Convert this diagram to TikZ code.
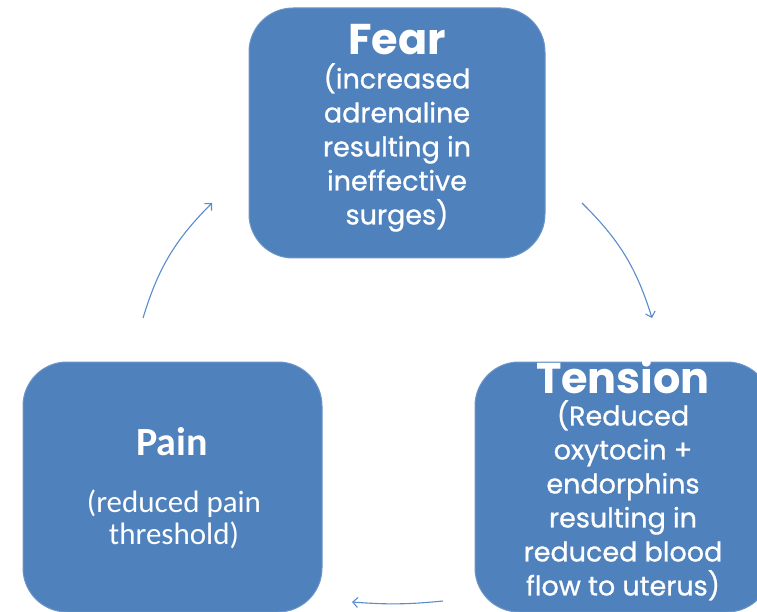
\documentclass[tikz,border=0pt]{standalone}
\usepackage{fontspec}
\setmainfont{Poppins}
\newfontfamily\bodyf[FakeBold=0.9]{Poppins}
\newfontfamily\calib{Carlito}
\usetikzlibrary{arrows.meta}
\definecolor{boxblue}{HTML}{4F81BD}
\definecolor{boxedge}{HTML}{6C95C8}
\definecolor{arrowblue}{HTML}{5B8CCB}
\tikzset{
  cyclebox/.style={fill=boxblue, draw=boxedge, line width=1pt, rounded corners=44pt},
  headtext/.style={text=white, inner sep=0pt, font=\bfseries\fontsize{43}{43}\selectfont},
  bodytext/.style={text=white, inner sep=0pt, align=center, font=\bodyf\fontsize{27}{34}\selectfont},
  cyclearrow/.style={draw=arrowblue, line width=1.1pt, -{Straight Barb[length=5pt,width=10pt]}}
}
\begin{document}
\begin{tikzpicture}[x=1pt, y=-1pt]
\clip (0,0) rectangle (757,612);
\fill[white] (0,0) rectangle (757,612);
% boxes
\draw[cyclebox] (249,8) rectangle (545,258);
\draw[cyclebox] (475,362) rectangle (771,612);
\draw[cyclebox] (23,362) rectangle (322,612);
% Fear
\node[headtext, anchor=base] (fearh) at (397,55) {Fear};
\node[bodytext, anchor=north] (fearb) at (397,63) {(increased\\adrenaline\\resulting in\\ineffective\\surges)};
% Tension
\node[headtext, anchor=base] (tensh) at (623,393) {Tension};
\node[bodytext, anchor=north] (tensb) at (623,400) {(Reduced\\oxytocin +\\endorphins\\resulting in\\reduced blood\\flow to uterus)};
% Pain
\node[text=white, inner sep=0pt, font=\calib\bfseries\fontsize{40}{40}\selectfont, anchor=base] (painh) at (172,455) {Pain};
\node[text=white, inner sep=0pt, align=center, font=\calib\fontsize{31}{32}\selectfont, anchor=north] (painb) at (174,490) {(reduced pain\\threshold)};
% arrows
\coordinate (a1s) at (143,318);
\coordinate (a1e) at (212,203);
\coordinate (a2s) at (582,203);
\coordinate (a2e) at (652,318);
\coordinate (a3s) at (443,601);
\coordinate (a3e) at (352,602);
\draw[cyclearrow] (a1s) to[bend left=14] (a1e);
\draw[cyclearrow] (a2s) to[bend left=14] (a2e);
\draw[cyclearrow] (a3s) to[bend left=5] (a3e);
\end{tikzpicture}
\end{document}
